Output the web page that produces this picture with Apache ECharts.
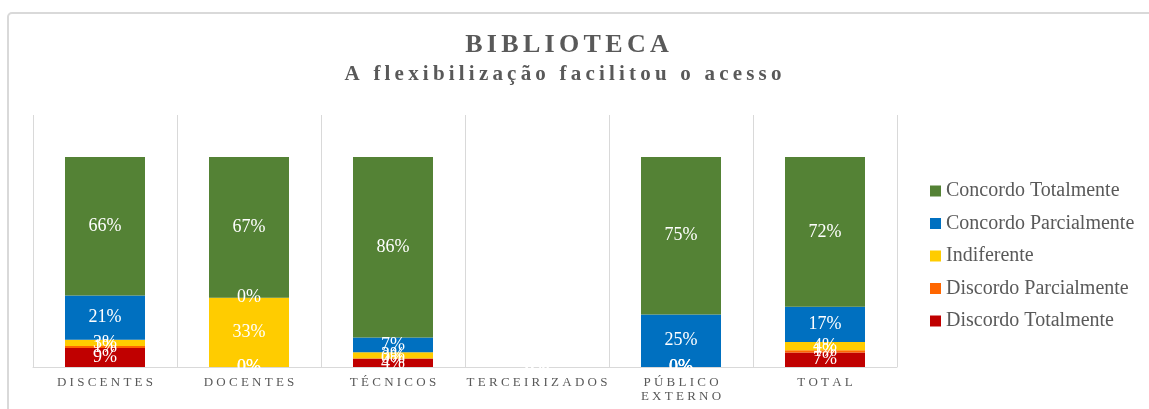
<!DOCTYPE html>
<html>
<head>
<meta charset="utf-8">
<style>
  html, body { margin: 0; padding: 0; background: #fff; }
  #main { width: 1149px; height: 409px; }
</style>
<script src="https://cdn.jsdelivr.net/npm/echarts@6/dist/echarts.min.js"></script>
</head>
<body>
<div id="main"></div>
<script>
// categories (bottom axis)
const categories = ["DISCENTES", "DOCENTES", "TÉCNICOS", "TERCEIRIZADOS", "PÚBLICO\nEXTERNO", "TOTAL"];

// percentages per answer, one value per category (as printed on the bars)
const discordoTotalmente = [9, 0, 4, 0, 0, 7];
const discordoParcialmente = [1, 0, 0, 0, 0, 1];
const indiferente = [3, 33, 3, 0, 0, 4];
const concordoParcialmente = [21, 0, 7, 0, 25, 17];
const concordoTotalmente = [66, 67, 86, 0, 75, 72];

const seriesNames = ["Discordo Totalmente", "Discordo Parcialmente", "Indiferente", "Concordo Parcialmente", "Concordo Totalmente"];
const seriesValues = [discordoTotalmente, discordoParcialmente, indiferente, concordoParcialmente, concordoTotalmente];
const seriesColors = ["#C00000", "#FF6600", "#FFCC00", "#0070C0", "#548235"];

const serif = "'Liberation Serif', 'Times New Roman', serif";
const gray = "#595959";

// spread letters out a bit, like the original
function spaced(s, sp) {
  return s.split("\n").map(function (line) {
    return line.split("").join(sp);
  }).join("\n");
}

// 100% stacked: each column is scaled to sum 100, labels keep the printed value
const totals = categories.map(function (c, j) {
  return seriesValues.reduce(function (s, arr) { return s + arr[j]; }, 0);
});

var chart = echarts.init(document.getElementById("main"));

var option = {
  animation: false,
  graphic: [
    {
      type: "rect",
      shape: { x: 8, y: 13, width: 1160, height: 420, r: 4 },
      style: { fill: "none", stroke: "#d9d9d9", lineWidth: 2 },
      silent: true
    },
    {
      type: "text",
      x: 567, y: 45,
      style: {
        text: spaced("BIBLIOTECA", "\u2006"),
        font: "bold 26px " + serif,
        fill: gray,
        align: "center",
        verticalAlign: "middle"
      }
    },
    {
      type: "text",
      x: 563, y: 75,
      style: {
        text: spaced("A flexibilização facilitou o acesso", "\u2009"),
        font: "bold 21px " + serif,
        fill: gray,
        align: "center",
        verticalAlign: "middle"
      }
    }
  ],
  legend: {
    orient: "vertical",
    left: 925,
    top: 176,
    itemWidth: 11,
    itemHeight: 11,
    itemGap: 12.5,
    icon: "rect",
    data: seriesNames.slice().reverse(),
    textStyle: { fontFamily: serif, fontSize: 20, color: gray }
  },
  grid: { left: 33, right: 252, top: 115, bottom: 42 },
  xAxis: {
    type: "category",
    data: categories,
    axisLine: { lineStyle: { color: "#d9d9d9", width: 1 } },
    axisTick: { show: false },
    splitLine: { show: true, interval: 0, lineStyle: { color: "#d9d9d9" } },
    axisLabel: {
      interval: 0,
      fontFamily: serif,
      fontSize: 13,
      color: gray,
      margin: 9,
      lineHeight: 14,
      formatter: function (v) { return spaced(v, "\u2005"); }
    }
  },
  yAxis: {
    type: "value",
    min: 0,
    max: 120,
    show: false,
    splitLine: { show: false }
  },
  series: seriesNames.map(function (name, i) {
    return {
      name: name,
      type: "bar",
      stack: "total",
      barWidth: 80,
      itemStyle: { color: seriesColors[i] },
      label: {
        show: true,
        position: "inside",
        color: "#fff",
        fontFamily: serif,
        fontSize: 18,
        formatter: function (p) { return p.data.shown + "%"; }
      },
      data: seriesValues[i].map(function (v, j) {
        return { value: totals[j] ? v * 100 / totals[j] : 0, shown: v };
      })
    };
  })
};

chart.setOption(option);
</script>
</body>
</html>
